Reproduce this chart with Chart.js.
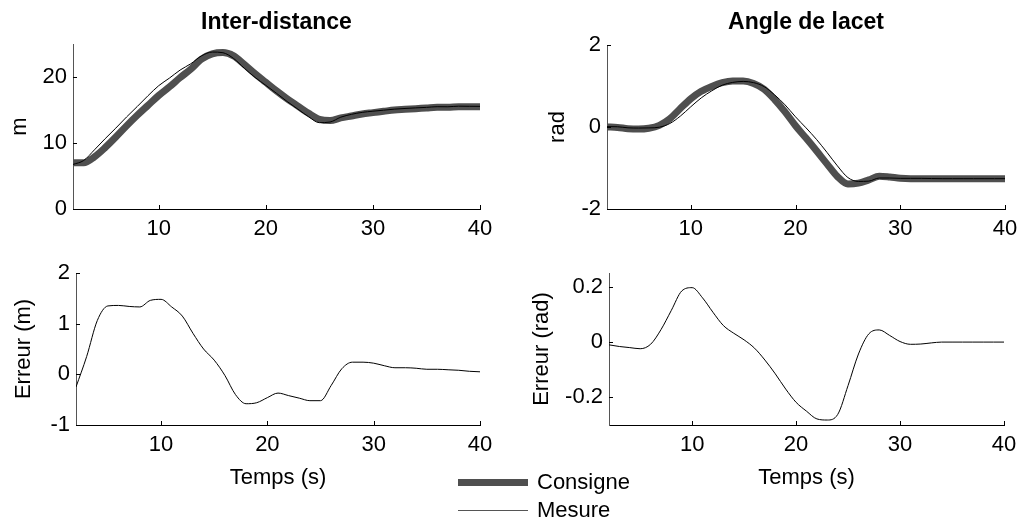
<!DOCTYPE html>
<html>
<head>
<meta charset="utf-8">
<script src="https://cdn.jsdelivr.net/npm/chart.js@4"></script>
<style>
  body { margin: 0; background: #fff; width: 1034px; height: 522px; overflow: hidden; position: relative; }
  canvas { position: absolute; }
  #legende { position: absolute; left: 458px; top: 468px; font-family: 'Liberation Sans', Arial, sans-serif; font-size: 22px; color: #000; z-index: 2; }
  #legende .ligne { display: flex; align-items: center; height: 28px; }
  #legende .trait { width: 70px; margin-right: 9px; }
</style>
</head>
<body>
<canvas id="distance" width="520" height="250" style="left:0;top:0"></canvas>
<canvas id="angle" width="514" height="250" style="left:520px;top:0"></canvas>
<canvas id="erreurDistance" width="520" height="272" style="left:0;top:250px"></canvas>
<canvas id="erreurAngle" width="514" height="272" style="left:520px;top:250px"></canvas>
<div id="legende"></div>

<script>
// Données (temps en secondes)
var temps = [2, 3, 4, 5, 6, 7, 8, 9, 10, 11, 12, 13, 14, 15, 16, 17, 18, 19, 20, 21,
    22, 23, 24, 25, 26, 27, 28, 29, 30, 31, 32, 33, 34, 35, 36, 37, 38, 39, 40];

var distanceConsigne = [7.0, 7.0, 7.9, 9.3, 10.9, 12.6, 14.2, 15.7, 17.2, 18.5, 19.9, 21.2, 22.7, 23.5, 23.7, 23.2, 21.9, 20.5, 19.2, 17.9,
    16.7, 15.6, 14.5, 13.6, 13.4, 13.8, 14.1, 14.4, 14.6, 14.8, 15.0, 15.1, 15.2, 15.3, 15.4, 15.4, 15.5, 15.5, 15.5];
var distanceMesure = [6.75, 7.35, 8.96, 10.65, 12.26, 13.94, 15.53, 17.16, 18.68, 19.83, 21.05, 22.01, 23.2, 23.78, 23.68, 22.8, 21.32, 19.94, 18.74, 17.53,
    16.28, 15.13, 13.98, 13.08, 13.18, 13.91, 14.34, 14.64, 14.82, 14.97, 15.13, 15.23, 15.32, 15.4, 15.5, 15.49, 15.58, 15.56, 15.55];
var distanceErreur = [-0.25, 0.35, 1.06, 1.35, 1.36, 1.34, 1.33, 1.46, 1.48, 1.33, 1.15, 0.81, 0.5, 0.28, -0.02, -0.4, -0.58, -0.56, -0.46, -0.37,
    -0.42, -0.47, -0.52, -0.52, -0.22, 0.11, 0.24, 0.24, 0.22, 0.17, 0.13, 0.13, 0.12, 0.1, 0.1, 0.09, 0.08, 0.06, 0.05];

var angleConsigne = [0.0, -0.01, -0.04, -0.05, -0.03, 0.04, 0.2, 0.45, 0.69, 0.87, 0.99, 1.08, 1.12, 1.12, 1.06, 0.92, 0.67, 0.37, 0.03, -0.27,
    -0.58, -0.9, -1.21, -1.39, -1.37, -1.29, -1.2, -1.22, -1.25, -1.26, -1.26, -1.26, -1.26, -1.26, -1.26, -1.26, -1.26, -1.26, -1.26];
var angleMesure = [0.01, 0.006, -0.02, -0.026, -0.022, -0.005, 0.085, 0.265, 0.493, 0.71, 0.882, 1.02, 1.088, 1.112, 1.082, 0.985, 0.785, 0.54, 0.248, -0.02,
    -0.302, -0.618, -0.948, -1.233, -1.327, -1.32, -1.244, -1.244, -1.252, -1.252, -1.253, -1.257, -1.26, -1.26, -1.26, -1.26, -1.26, -1.26, -1.26];
var angleErreur = [-0.01, -0.016, -0.02, -0.024, -0.008, 0.045, 0.115, 0.185, 0.197, 0.16, 0.108, 0.06, 0.032, 0.008, -0.022, -0.065, -0.115, -0.17, -0.218, -0.25,
    -0.278, -0.282, -0.262, -0.157, -0.043, 0.03, 0.044, 0.024, 0.002, -0.008, -0.007, -0.003, 0, 0, 0, 0, 0, 0, 0];

// Graduations
var ticksTemps = [10, 20, 30, 40];
var ticksDistance = [0, 10, 20];
var ticksAngle = [-2, 0, 2];
var ticksErreurDistance = [-1, 0, 1, 2];
var ticksErreurAngle = [-0.2, 0, 0.2];

var POLICE = "'Liberation Sans', Arial, Helvetica, sans-serif";
var COULEUR_CONSIGNE = '#4f4f4f';

// Paires temps / valeur pour une échelle linéaire
function points(valeurs) {
    return temps.map(function (t, i) { return { x: t, y: valeurs[i] }; });
}

// Petits traits de graduation vers l'intérieur (style MATLAB)
var ticksInterieurs = {
    id: 'ticksInterieurs',
    afterDraw: function (chart) {
        var ctx = chart.ctx;
        var zone = chart.chartArea;
        var sx = chart.scales.x;
        var sy = chart.scales.y;
        ctx.save();
        ctx.strokeStyle = '#000';
        ctx.lineWidth = 1;
        ctx.beginPath();
        sx.ticks.forEach(function (t) {
            var px = Math.round(sx.getPixelForValue(t.value)) + 0.5;
            ctx.moveTo(px, zone.bottom);
            ctx.lineTo(px, zone.bottom - 4);
        });
        sy.ticks.forEach(function (t) {
            var py = Math.round(sy.getPixelForValue(t.value)) + 0.5;
            ctx.moveTo(zone.left, py);
            ctx.lineTo(zone.left + 4, py);
        });
        ctx.stroke();
        ctx.restore();
    }
};

function creerGraphique(id, cfg) {
    var options = {
        responsive: false,
        animation: false,
        layout: { padding: { left: 0, top: cfg.hautPadding, right: cfg.droitePadding, bottom: 0 } },
        plugins: {
            legend: { display: false },
            tooltip: { enabled: false },
            title: {
                display: !!cfg.titre,
                text: cfg.titre,
                fullSize: false, // centré sur la zone du tracé
                color: '#000',
                font: { family: POLICE, size: 23, weight: 'bold' },
                padding: { top: 8.6, bottom: cfg.titrePaddingBas }
            }
        },
        scales: {
            x: {
                type: 'linear',
                min: 2,
                max: 40,
                grid: { display: false, drawTicks: false },
                border: { display: true, color: '#000', width: 1 },
                afterBuildTicks: function (scale) {
                    scale.ticks = ticksTemps.map(function (v) { return { value: v }; });
                },
                afterFit: function (scale) { scale.height = cfg.hauteurX; },
                ticks: { color: '#000', padding: 7, font: { family: POLICE, size: 22 } },
                title: {
                    display: !!cfg.titreX,
                    text: cfg.titreX,
                    color: '#000',
                    font: { family: POLICE, size: 22 },
                    padding: { top: 0, bottom: 31 }
                }
            },
            y: {
                type: 'linear',
                min: cfg.yMin,
                max: cfg.yMax,
                grid: { display: false, drawTicks: false },
                border: { display: true, color: '#555', width: 1 },
                afterBuildTicks: function (scale) {
                    scale.ticks = cfg.yTicks.map(function (v) { return { value: v }; });
                },
                afterFit: function (scale) { scale.width = cfg.largeurY; },
                ticks: { color: '#000', padding: 6, font: { family: POLICE, size: 22 } },
                title: {
                    display: true,
                    text: cfg.titreY,
                    color: '#000',
                    font: { family: POLICE, size: 22 },
                    padding: { top: cfg.titreYPadding, bottom: 0 }
                }
            }
        }
    };
    return new Chart(document.getElementById(id), {
        type: 'line',
        data: { datasets: cfg.datasets },
        options: options,
        plugins: [ticksInterieurs]
    });
}

function serieConsigne(valeurs) {
    return {
        label: 'Consigne', data: points(valeurs), borderColor: COULEUR_CONSIGNE,
        borderWidth: 7, pointRadius: 0, cubicInterpolationMode: 'monotone', order: 2
    };
}

function serieMesure(valeurs) {
    return {
        label: 'Mesure', data: points(valeurs), borderColor: '#000',
        borderWidth: 1, pointRadius: 0, cubicInterpolationMode: 'monotone', order: 1
    };
}

function serieErreur(valeurs) {
    return {
        label: 'Erreur', data: points(valeurs), borderColor: '#000',
        borderWidth: 1, pointRadius: 0, cubicInterpolationMode: 'monotone'
    };
}

// Légende commune construite depuis les séries du premier graphique
function construireLegende(chart) {
    var conteneur = document.getElementById('legende');
    chart.data.datasets.forEach(function (ds) {
        var ligne = document.createElement('div');
        ligne.className = 'ligne';
        var trait = document.createElement('div');
        trait.className = 'trait';
        trait.style.height = ds.borderWidth + 'px';
        trait.style.background = ds.borderWidth > 1 ? ds.borderColor : '#555';
        var texte = document.createElement('span');
        texte.textContent = ds.label;
        ligne.appendChild(trait);
        ligne.appendChild(texte);
        conteneur.appendChild(ligne);
    });
}

var graphDistance = creerGraphique('distance', {
    titre: 'Inter-distance', titrePaddingBas: 7.8, hautPadding: 0, droitePadding: 40,
    largeurY: 73, hauteurX: 41, titreY: 'm', titreYPadding: 7,
    yMin: 0, yMax: 25, yTicks: ticksDistance,
    datasets: [serieConsigne(distanceConsigne), serieMesure(distanceMesure)]
});

creerGraphique('angle', {
    titre: 'Angle de lacet', titrePaddingBas: 8.8, hautPadding: 0, droitePadding: 29,
    largeurY: 87, hauteurX: 41, titreY: 'rad', titreYPadding: 25,
    yMin: -2, yMax: 2, yTicks: ticksAngle,
    datasets: [serieConsigne(angleConsigne), serieMesure(angleMesure)]
});

creerGraphique('erreurDistance', {
    hautPadding: 23, droitePadding: 40,
    largeurY: 76, hauteurX: 97, titreX: 'Temps (s)', titreY: 'Erreur (m)', titreYPadding: 11,
    yMin: -1, yMax: 2, yTicks: ticksErreurDistance,
    datasets: [serieErreur(distanceErreur)]
});

creerGraphique('erreurAngle', {
    hautPadding: 23, droitePadding: 30,
    largeurY: 89, hauteurX: 97, titreX: 'Temps (s)', titreY: 'Erreur (rad)', titreYPadding: 9,
    yMin: -0.3, yMax: 0.25, yTicks: ticksErreurAngle,
    datasets: [serieErreur(angleErreur)]
});

construireLegende(graphDistance);
</script>
</body>
</html>
